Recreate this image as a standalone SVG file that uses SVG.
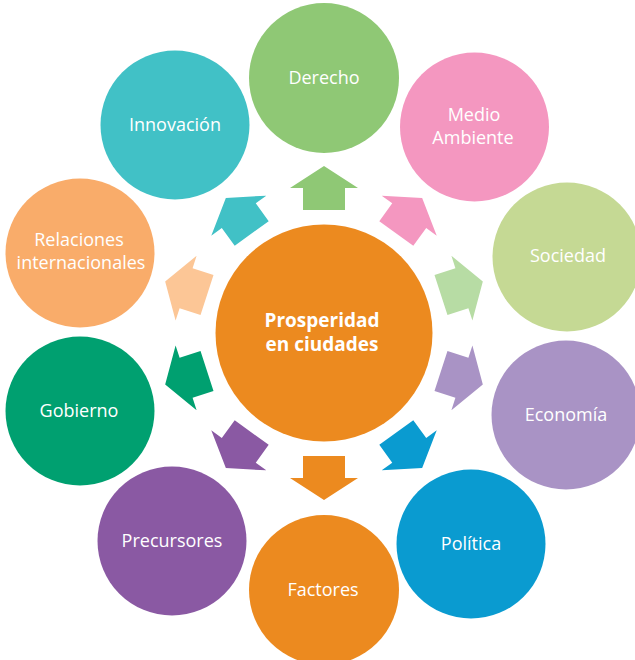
<svg xmlns="http://www.w3.org/2000/svg" width="635" height="660" viewBox="0 0 635 660">
<style>
.lbl{font-family:"Open Sans","Noto Sans","Liberation Sans",sans-serif;font-size:18px;fill:#ffffff;text-anchor:middle}
.ctr{font-family:"Open Sans","Noto Sans","Liberation Sans",sans-serif;font-size:19px;font-weight:bold;fill:#ffffff;text-anchor:middle}
</style>
<defs>
<polygon id="arr" points="-21,-123 21,-123 21,-145 34,-145 0,-167 -34,-145 -21,-145"/>
</defs>
<rect width="635" height="660" fill="#ffffff"/>
<g id="connectors">
<use href="#arr" transform="translate(324,333) rotate(0)" fill="#8FC875"/>
<use href="#arr" transform="translate(324,333) rotate(36)" fill="#F497C0"/>
<use href="#arr" transform="translate(324,333) rotate(72)" fill="#B7DCA4"/>
<use href="#arr" transform="translate(324,333) rotate(108)" fill="#A993C5"/>
<use href="#arr" transform="translate(324,333) rotate(144)" fill="#0A9BD0"/>
<use href="#arr" transform="translate(324,333) rotate(180)" fill="#EC8A1F"/>
<use href="#arr" transform="translate(324,333) rotate(216)" fill="#8A59A3"/>
<use href="#arr" transform="translate(324,333) rotate(252)" fill="#00A070"/>
<use href="#arr" transform="translate(324,333) rotate(288)" fill="#FCC696"/>
<use href="#arr" transform="translate(324,333) rotate(324)" fill="#41C1C6"/>
</g>
<g id="center">
<circle cx="324" cy="333" r="108.5" fill="#EC8A1F"/>
<text class="ctr" x="322" y="327">Prosperidad</text>
<text class="ctr" x="322" y="351">en ciudades</text>
</g>
<g id="derecho">
<circle cx="324" cy="78" r="75" fill="#8FC875"/>
<text class="lbl" x="324" y="84">Derecho</text>
</g>
<g id="medio-ambiente">
<circle cx="474.5" cy="127" r="74.5" fill="#F497C0"/>
<text class="lbl" x="474" y="121">Medio</text>
<text class="lbl" x="473" y="144">Ambiente</text>
</g>
<g id="sociedad">
<circle cx="567" cy="257" r="74.5" fill="#C5D994"/>
<text class="lbl" x="568" y="262">Sociedad</text>
</g>
<g id="economia">
<circle cx="566" cy="415" r="74.5" fill="#A993C5"/>
<text class="lbl" x="566" y="421">Economía</text>
</g>
<g id="politica">
<circle cx="471" cy="544" r="74.5" fill="#0A9BD0"/>
<text class="lbl" x="471" y="550">Política</text>
</g>
<g id="factores">
<circle cx="324" cy="590" r="75" fill="#EC8A1F"/>
<text class="lbl" x="323" y="596">Factores</text>
</g>
<g id="precursores">
<circle cx="172" cy="541" r="74.5" fill="#8A59A3"/>
<text class="lbl" x="172" y="547">Precursores</text>
</g>
<g id="gobierno">
<circle cx="80" cy="411" r="74.5" fill="#00A070"/>
<text class="lbl" x="79" y="417">Gobierno</text>
</g>
<g id="relaciones">
<circle cx="80" cy="253" r="74.5" fill="#F9AC6A"/>
<text class="lbl" x="79" y="246">Relaciones</text>
<text class="lbl" x="81" y="269">internacionales</text>
</g>
<g id="innovacion">
<circle cx="175" cy="125" r="74.5" fill="#41C1C6"/>
<text class="lbl" x="175" y="131">Innovación</text>
</g>
</svg>
